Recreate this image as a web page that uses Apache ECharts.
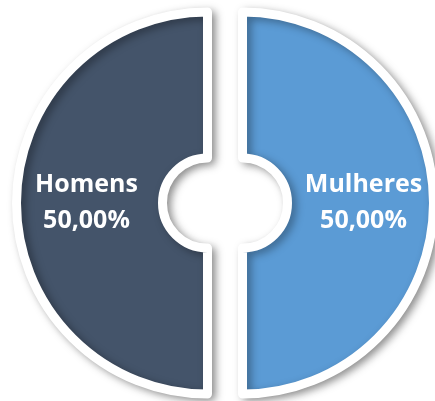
<!DOCTYPE html>
<html>
<head>
<meta charset="utf-8">
<script src="https://cdn.jsdelivr.net/npm/echarts@6/dist/echarts.min.js"></script>
<style>
  html, body { margin: 0; padding: 0; background: #ffffff; }
  #chart { width: 435px; height: 401px; }
</style>
</head>
<body>
<div id="chart"></div>
<script>
  const categories = ["Homens", "Mulheres"];
  const values = [50, 50];
  const colors = ["#44546A", "#5B9BD5"];

  const chart = echarts.init(document.getElementById("chart"));

  chart.setOption({
    animation: false,
    backgroundColor: "#ffffff",
    series: [
      {
        type: "pie",
        center: [225, 203],
        radius: [45, 191],
        clockwise: false,
        startAngle: 90,
        selectedMode: "multiple",
        selectedOffset: 17.5,
        data: categories.map((name, i) => ({
          name: name,
          value: values[i],
          selected: true,
          itemStyle: { color: colors[i] }
        })),
        itemStyle: {
          borderColor: "#ffffff",
          borderWidth: 9,
          borderJoin: "round",
          shadowBlur: 8,
          shadowOffsetX: 4,
          shadowOffsetY: 3,
          shadowColor: "rgba(0, 0, 0, 0.35)"
        },
        label: {
          position: "inside",
          color: "#ffffff",
          fontFamily: "Open Sans",
          fontWeight: "bold",
          fontSize: 25,
          lineHeight: 36,
          formatter: (p) => p.name + "\n" + p.percent.toFixed(2).replace(".", ",") + "%"
        },
        labelLine: { show: false },
        emphasis: { disabled: true }
      }
    ]
  });
</script>
</body>
</html>
